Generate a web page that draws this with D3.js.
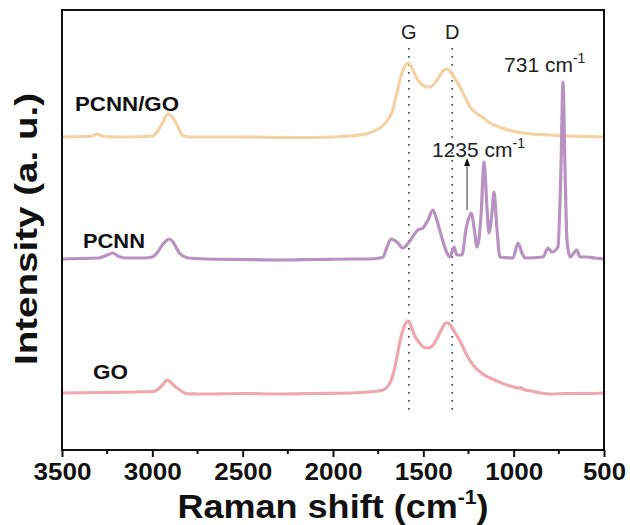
<!DOCTYPE html>
<html>
<head>
<meta charset="utf-8">
<script src="https://cdn.jsdelivr.net/npm/d3@7"></script>
<style>
  body { margin: 0; background: #fff; }
  text { font-family: "Liberation Sans", Arial, sans-serif; }
</style>
</head>
<body>
<div id="chart"></div>
<script>
// Raman shift (cm-1) values and intensities above each trace's own baseline
const goShift = [3500, 3300, 3100, 3000, 2985, 2960, 2935, 2919, 2900, 2870, 2840, 2815, 2780, 2700, 2500, 2300, 2100, 1900, 1800, 1750, 1723, 1700, 1685, 1670, 1657, 1640, 1618, 1600, 1585, 1570, 1550, 1520, 1500, 1474, 1450, 1420, 1395, 1375, 1363, 1350, 1330, 1310, 1289, 1260, 1224, 1180, 1131, 1080, 1037, 1000, 975, 962, 945, 900, 850, 799, 700, 600, 500];
const goValue = [0, 0.5, 1, 1.5, 2, 5, 10, 13, 11, 6, 2, -0.5, -0.8, -1, -0.5, -1, -0.5, 0, 1, 2, 3, 6, 10, 17, 26, 42, 60, 69, 72, 68, 58, 50, 46, 45, 47, 56, 65, 70, 70, 68, 62, 56, 49, 38, 28, 20, 15, 11, 8, 6, 5, 5.5, 3.5, 2, 0, -1, -0.5, -0.5, 0];

const pcnnShift = [3500, 3400, 3300, 3250, 3218, 3190, 3150, 3050, 3000, 2970, 2945, 2930, 2908, 2890, 2870, 2850, 2830, 2800, 2700, 2500, 2300, 2100, 1900, 1800, 1740, 1723, 1701, 1679, 1646, 1613, 1579, 1530, 1502, 1474, 1447, 1425, 1397, 1369, 1353, 1330, 1314, 1286, 1264, 1250, 1235, 1218, 1203, 1181, 1164, 1148, 1137, 1120, 1109, 1092, 1076, 1004, 976, 954, 937, 838, 810, 788, 755, 738, 727, 716, 705, 688, 650, 633, 589, 550, 500];
const pcnnValue = [0, 0.5, 1, 4, 6, 3, 1, 1, 2, 7, 14, 17, 20, 18, 12, 6, 3, 1, 0, -0.5, -1, -0.5, 0, 0, 1, 2, 12, 20, 17, 11, 17, 29, 31, 39, 49, 39, 21, 6, 2, 12, 4, 4, 30, 40, 46, 30, 12, 42, 97, 52, 26, 46, 67, 29, 2, 1, 16, 6, 1, 2, 11, 7, 12, 92, 177, 92, 19, 2, 9, 2, 2, 1, 0];

const pcnnGoShift = [3500, 3400, 3340, 3306, 3280, 3200, 3050, 3000, 2980, 2950, 2913, 2890, 2860, 2835, 2800, 2500, 2200, 2000, 1900, 1800, 1750, 1720, 1690, 1668, 1645, 1625, 1605, 1585, 1565, 1540, 1510, 1480, 1463, 1440, 1410, 1385, 1364, 1345, 1320, 1297, 1270, 1242, 1200, 1160, 1131, 1080, 1030, 982, 900, 799, 700, 600, 500];
const pcnnGoValue = [0, 0.5, 0.5, 3, 1, 0, 0.5, 1, 4, 12, 23, 20, 11, 2, 0, 0, -0.5, 0, 1, 4, 8, 12, 19, 28, 45, 60, 70, 74, 70, 60, 53, 50, 50, 53, 61, 67, 68, 64, 57, 50, 40, 30, 23, 18, 14, 10, 7, 5, 3, 2, 1, 0.5, 0];

const series = [
  { name: "PCNN/GO", shift: pcnnGoShift, value: pcnnGoValue, offset: 313, color: "#f2d09e", labelShift: 3428, labelY: 339, labelLen: 104 },
  { name: "PCNN", shift: pcnnShift, value: pcnnValue, offset: 191, color: "#b48dbe", labelShift: 3384, labelY: 202, labelLen: 62 },
  { name: "GO", shift: goShift, value: goValue, offset: 57, color: "#eea3aa", labelShift: 3328, labelY: 71, labelLen: 35 }
];

const xTicks = [3500, 3000, 2500, 2000, 1500, 1000, 500];
const xMinorTicks = [3250, 2750, 2250, 1750, 1250, 750];
const bandLines = [{ name: "G", shift: 1580 }, { name: "D", shift: 1340 }];

// layout
const width = 630;
const height = 525;
const margin = { top: 10, left: 62, bottom: 75, right: 26 };
const plot = {
  left: margin.left,
  right: width - margin.right,
  top: margin.top,
  bottom: height - margin.bottom
};

const x = d3.scaleLinear().domain([3500, 500]).range([plot.left, plot.right]);
const y = d3.scaleLinear().domain([0, 440]).range([plot.bottom, plot.top]);

const svg = d3
  .select("#chart")
  .append("svg")
  .attr("width", width)
  .attr("height", height);

// G and D band markers
bandLines.forEach(function(b) {
  svg
    .append("line")
    .attr("x1", x(b.shift))
    .attr("x2", x(b.shift))
    .attr("y1", y(402))
    .attr("y2", y(39))
    .attr("stroke", "#555")
    .attr("stroke-width", 1.8)
    .attr("stroke-dasharray", "1.8,6.2");

  svg
    .append("text")
    .attr("x", x(b.shift))
    .attr("y", y(411))
    .attr("text-anchor", "middle")
    .attr("font-size", 20)
    .attr("fill", "#222")
    .text(b.name);
});

// spectra
const line = d3
  .line()
  .x(function(d) { return x(d[0]); })
  .y(function(d) { return y(d[1]); })
  .curve(d3.curveMonotoneX);

// draw GO, then PCNN/GO, then PCNN on top
[series[2], series[0], series[1]].forEach(function(s) {
  const pts = s.shift.map(function(w, i) {
    return [w, s.value[i] + s.offset];
  });
  svg
    .append("path")
    .datum(pts)
    .attr("d", line)
    .attr("fill", "none")
    .attr("stroke", s.color)
    .attr("stroke-width", 3.2)
    .attr("stroke-linejoin", "round")
    .attr("opacity", 0.95);
});

// sample labels
series.forEach(function(s) {
  svg
    .append("text")
    .attr("x", x(s.labelShift))
    .attr("y", y(s.labelY))
    .attr("font-size", 20)
    .attr("font-weight", "bold")
    .attr("fill", "#111")
    .attr("textLength", s.labelLen)
    .attr("lengthAdjust", "spacingAndGlyphs")
    .text(s.name);
});

// peak annotations
function peakLabel(shift, yVal, num) {
  const t = svg
    .append("text")
    .attr("x", x(shift))
    .attr("y", y(yVal))
    .attr("font-size", 21)
    .attr("fill", "#222");
  t.append("tspan").text(num + " cm");
  t.append("tspan").attr("font-size", 14).attr("dy", -9).text("-1");
}
peakLabel(1053, 378, "731");
peakLabel(1452, 293, "1235");

// arrow pointing at the 1235 band
svg
  .append("line")
  .attr("x1", x(1258))
  .attr("x2", x(1258))
  .attr("y1", y(240))
  .attr("y2", y(285))
  .attr("stroke", "#333")
  .attr("stroke-width", 1);
svg
  .append("path")
  .attr("d", d3.line()([
    [x(1258) - 3, y(284)],
    [x(1258), y(292)],
    [x(1258) + 3, y(284)]
  ]))
  .attr("fill", "#111");

// x axis
const xAxis = svg
  .append("g")
  .attr("transform", "translate(0," + plot.bottom + ")")
  .call(d3.axisBottom(x).tickValues(xTicks).tickSize(7).tickFormat(d3.format("d")));
xAxis.select(".domain").remove();
xAxis.selectAll("line").attr("stroke", "#111").attr("stroke-width", 2);
xAxis
  .selectAll("text")
  .attr("y", 30)
  .attr("dy", 0)
  .attr("font-size", 23)
  .attr("font-weight", "bold")
  .attr("fill", "#111")
  .attr("font-family", "Liberation Sans, Arial, sans-serif")
  .attr("textLength", function(d) { return d >= 1000 ? 58 : 43; })
  .attr("lengthAdjust", "spacingAndGlyphs");

svg
  .append("g")
  .selectAll("line")
  .data(xMinorTicks)
  .enter()
  .append("line")
  .attr("x1", function(d) { return x(d); })
  .attr("x2", function(d) { return x(d); })
  .attr("y1", plot.bottom)
  .attr("y2", plot.bottom + 4)
  .attr("stroke", "#111")
  .attr("stroke-width", 2);

// frame
svg
  .append("rect")
  .attr("x", plot.left)
  .attr("y", plot.top)
  .attr("width", plot.right - plot.left)
  .attr("height", plot.bottom - plot.top)
  .attr("fill", "none")
  .attr("stroke", "#111")
  .attr("stroke-width", 2);

// axis titles
const xTitle = svg
  .append("text")
  .attr("transform", "translate(" + (plot.left + plot.right) / 2 + ",518) scale(1.06,1)")
  .attr("text-anchor", "middle")
  .attr("font-size", 34)
  .attr("font-weight", "bold")
  .attr("fill", "#111");
xTitle.append("tspan").text("Raman shift (cm");
xTitle.append("tspan").attr("font-size", 20).attr("dy", -14).text("-1");
xTitle.append("tspan").attr("dy", 14).text(")");

svg
  .append("text")
  .attr("transform", "translate(37,229) rotate(-90)")
  .attr("text-anchor", "middle")
  .attr("font-size", 32)
  .attr("font-weight", "bold")
  .attr("fill", "#111")
  .attr("textLength", 272)
  .attr("lengthAdjust", "spacingAndGlyphs")
  .text("Intensity (a. u.)");
</script>
</body>
</html>
